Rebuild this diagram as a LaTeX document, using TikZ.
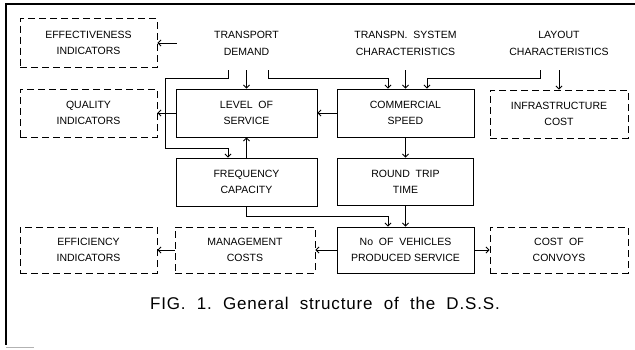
\documentclass[tikz,border=0pt]{standalone}
\usepackage{fontspec}
\setmainfont{Liberation Sans}
\usetikzlibrary{arrows.meta,calc}
\begin{document}
\begin{tikzpicture}[x=1pt,y=-1pt,
  lbl/.style={font=\fontsize{10.5}{16}\selectfont, align=center, inner sep=0pt},
  solidbox/.style={lbl, draw, line width=0.9pt},
  dashbox/.style={lbl, draw, line width=0.9pt, dash pattern=on 7pt off 4pt},
  txt/.style={lbl, font=\fontsize{10.5}{17}\selectfont, minimum height=54pt},
  arr/.style={-{Straight Barb[length=3pt,width=6pt]}, line width=0.8pt}
]
\useasboundingbox (0,0) rectangle (635,349);
% frame remnants
\draw[line width=1.3pt] (635,4) -- (6,4) -- (6,345);
\draw[gray!60, line width=0.8pt] (6,347) -- (34,347);

% top texts
\node[txt, minimum width=139pt] (td) at (246.5,43) {TRANSPORT\\DEMAND};
\node[txt] (tsc) at (405.5,43) {TRANSPN.\ \ SYSTEM\\CHARACTERISTICS};
\node[txt] (lay) at (559,43) {LAYOUT\\CHARACTERISTICS};

% boxes
\node[dashbox, minimum width=137pt, minimum height=49pt] (eff) at (88.5,43) {EFFECTIVENESS\\INDICATORS};
\node[dashbox, minimum width=137pt, minimum height=48pt] (qual) at (88.5,113) {QUALITY\\INDICATORS};
\node[solidbox, minimum width=141pt, minimum height=48pt] (los) at (246.5,113) {LEVEL\ \ OF\\SERVICE};
\node[solidbox, minimum width=137pt, minimum height=48pt] (cs) at (405.5,113) {COMMERCIAL\\SPEED};
\node[dashbox, minimum width=138pt, minimum height=48pt] (infra) at (559,114) {INFRASTRUCTURE\\COST};
\node[solidbox, minimum width=141pt, minimum height=48pt] (fc) at (246.5,182) {FREQUENCY\\CAPACITY};
\node[solidbox, minimum width=136pt, minimum height=47pt] (rtt) at (405.5,181.5) {ROUND\ \ TRIP\\TIME};
\node[dashbox, minimum width=137pt, minimum height=46pt] (effi) at (88.5,250) {EFFICIENCY\\INDICATORS};
\node[dashbox, minimum width=140pt, minimum height=46pt] (mgmt) at (245,250) {MANAGEMENT\\COSTS};
\node[solidbox, minimum width=137pt, minimum height=46pt] (nov) at (405.5,250) {No\ \ OF\ \ VEHICLES\\PRODUCED\ SERVICE};
\node[dashbox, minimum width=138pt, minimum height=46pt] (conv) at (559,250) {COST\ \ OF\\CONVOYS};

% caption
\node[inner sep=0pt, font=\fontsize{17}{20}\selectfont\addfontfeatures{LetterSpace=5}] (cap) at (325,303)
  {FIG.\ \ 1.\ \ General\ \ structure\ \ of\ \ the\ \ D.S.S.};

% connectors
\draw[arr] (td.west) -- (eff.east);
\draw[arr] (td.south) -- (los.north);
\draw[arr] ([xshift=-18.5pt]td.south) -- ++(0,8) -| (165,148) -| ([xshift=-18.5pt]fc.north);
\draw[arr] ([xshift=21.5pt]td.south) -- ++(0,8) -| ([xshift=-17.5pt]cs.north);
\draw[arr] (tsc.south) -- (cs.north);
\draw[arr] ([xshift=-19pt]lay.south) -- ++(0,8) -| ([xshift=21.5pt]cs.north);
\draw[arr] (lay.south) -- (infra.north);
\draw[arr] (los.west) -- (qual.east);
\draw[arr] (cs.west) -- (los.east);
\draw[arr] (fc.north) -- (los.south);
\draw[arr] (cs.south) -- (rtt.north);
\draw[arr] (fc.south) -- ++(0,10) -| ([xshift=-17.5pt]nov.north);
\draw[arr] (rtt.south) -- (nov.north);
\draw[arr] (nov.west) -- (mgmt.east);
\draw[arr] (nov.east) -- (conv.west);
\draw[arr] (mgmt.west) -- (effi.east);
\end{tikzpicture}
\end{document}
